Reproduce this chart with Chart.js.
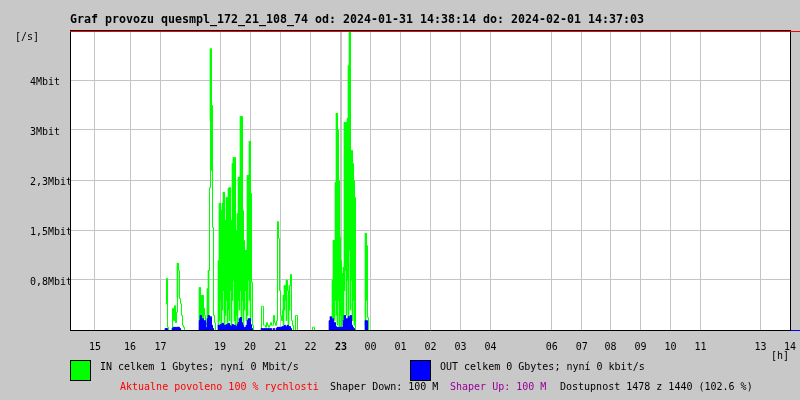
<!DOCTYPE html>
<html><head><meta charset="utf-8">
<script src="https://cdn.jsdelivr.net/npm/chart.js@4/dist/chart.umd.min.js"></script>
<style>
body{margin:0;background:#c8c8c8;}
#wrap{position:relative;width:800px;height:400px;overflow:hidden;font-family:"DejaVu Sans Mono",monospace;}
canvas{position:absolute;left:0;top:0;}
.t{position:absolute;white-space:pre;font-size:10px;line-height:12px;color:#000;}
.title{font-size:11.63px;font-weight:bold;line-height:14px;}
.box{position:absolute;width:19px;height:19px;border:1px solid #000;}
</style></head>
<body><div id="wrap">
<canvas id="c" width="800" height="400"></canvas>
<div class="t title" style="left:70px;top:12px">Graf provozu quesmpl_172_21_108_74 od: 2024-01-31 14:38:14 do: 2024-02-01 14:37:03</div>
<div class="t" style="left:15px;top:31px">[/s]</div>
<div class="t" style="left:771px;top:350px">[h]</div>
<div class="box" style="left:70px;top:360px;background:#00ff00"></div>
<div class="t" style="left:100px;top:361px">IN celkem 1 Gbytes; nyní 0 Mbit/s</div>
<div class="box" style="left:410px;top:360px;background:#0000ff"></div>
<div class="t" style="left:440px;top:361px">OUT celkem 0 Gbytes; nyní 0 kbit/s</div>
<div class="t" style="left:120px;top:381px;color:#ff0000">Aktualne povoleno 100 % rychlosti</div>
<div class="t" style="left:330px;top:381px">Shaper Down: 100 M</div>
<div class="t" style="left:450px;top:381px;color:#990099">Shaper Up: 100 M</div>
<div class="t" style="left:560px;top:381px">Dostupnost 1478 z 1440 (102.6 %)</div>
</div>
<script>
// time axis: hours after 2024-01-31 14:00
const xTickHours = [0.83, 2, 3.02, 5, 6, 7.02, 8.02, 9.03, 10.02, 11.02, 12.02, 13.02, 14.02, 16.06, 17.06, 18.02, 19.02, 20.02, 21.02, 23.02, 24];
const xTickLabels = ['15','16','17','19','20','21','22','23','00','01','02','03','04','06','07','08','09','10','11','13','14'];
const yTickValues = [0, 0.7667, 1.5333, 2.3, 3.0667, 3.8333, 4.6];
const yTickLabels = ['', '0,8Mbit', '1,5Mbit', '2,3Mbit', '3Mbit', '4Mbit', ''];
const sampleStartMinutes = 190; // 17:10
const sampleStepMinutes = 2;

// IN traffic, peak of each interval, Mbit/s
const inMbit = [
0.41,0.8,0.05,0,0,0,0,0.34,0.15,0.38,0.12,0.28,1.03,0.92,0.49,0.41,0.23,0.08,0.05,
0,0,0,0,0,0,0,0,0,0,0,0,0,0,0,
0.66,0.54,0.46,0.54,0.34,0.23,0.12,0.08,0.64,0.92,2.19,4.32,3.45,1.58,0.23,0.12,0,0,0,
1.07,1.95,1.84,1.38,1.95,2.12,1.69,1.23,2.04,1.53,2.18,2.19,1.69,0.92,2.56,2.65,2.65,1.53,1.23,1.79,2.35,2.35,3.28,3.28,1.84,1.38,1.07,1.23,1.23,2.38,2.38,2.9,2.1,0.74,0.08,
0,0,0,0,0,0,0,0,
0.37,0.37,0.08,0.08,0.05,0.12,0.08,0.05,0.08,0.12,0.08,0.08,0.23,0.12,0.08,0.15,1.67,1.41,0.61,0.23,0.15,0.31,0.54,0.69,0.46,0.77,0.61,0.54,0.69,0.86,0.15,0.08,0,0,0.23,0.23,
0,0,0,0,0,0,0,0,0,0,0,0,0,0,0,
0.05,0.05,
0,0,0,0,0,0,0,0,0,0,0,0,0,0,0,
0.12,0.15,0.12,0.77,1.38,1.38,2.27,3.33,3.07,2.3,1.43,1.07,0.61,0.87,0.97,3.19,3.19,3.07,3.25,4.06,4.6,2.56,2.76,2.56,2.3,2.04,
0,0,0,0,0,0,0,0,0,0,
1.49,1.3,0.2,0
];
// IN traffic, low of each interval where the trace fills a band (null = no band), Mbit/s
const inLowMbit = [
null,null,null,null,null,null,null,null,null,null,null,null,0.51,null,null,null,null,null,null,
null,null,null,null,null,null,null,null,null,null,null,null,null,null,null,
0.15,0.15,0.23,0.15,0.08,null,null,null,0.08,0.08,null,3.22,2.45,null,null,null,null,null,null,
0.05,0.15,0.46,0.08,0.31,0.61,0.05,0.23,0.46,0.08,0.31,0.15,0.61,0.05,0.46,0.77,0.15,0.05,0.23,0.08,0.46,0.31,0.61,0.15,0.46,0.08,0.31,0.61,0.15,0.23,0.77,0.46,0.15,null,null,
null,null,null,null,null,null,null,null,
null,null,null,null,null,null,null,null,null,null,null,null,null,null,null,null,null,null,null,null,null,null,0.08,0.31,null,0.15,null,0.08,0.31,null,null,null,null,null,null,null,
null,null,null,null,null,null,null,null,null,null,null,null,null,null,null,
null,null,
null,null,null,null,null,null,null,null,null,null,null,null,null,null,null,
null,null,null,0.08,0.05,0.15,0.46,0.23,0.08,0.46,0.05,0.23,0.05,0.15,0.08,0.61,0.92,0.23,0.77,0.15,1.23,0.31,0.77,0.15,0.46,0.08,
null,null,null,null,null,null,null,null,null,null,
0.08,0.46,null,null
];
// OUT traffic, Mbit/s
const outMbit = [
0.03,0.03,0,0,0,0,0,0.03,0.05,0.03,0.05,0.03,0.05,0.05,0.03,0,0,0,0,
0,0,0,0,0,0,0,0,0,0,0,0,0,0,0,
0.15,0.23,0.12,0.18,0.08,0.15,0.05,0.03,0.18,0.23,0.12,0.21,0.08,0.03,0,0,0,0,0,
0.08,0.05,0.09,0.06,0.11,0.05,0.08,0.06,0.09,0.05,0.11,0.08,0.06,0.05,0.09,0.06,0.08,0.05,0.06,0.09,0.12,0.18,0.2,0.12,0.08,0.05,0.03,0.05,0.08,0.15,0.18,0.18,0.09,0.03,0,
0,0,0,0,0,0,0,0,
0.03,0.03,0,0.03,0,0.03,0,0.03,0,0.03,0,0,0.03,0,0,0.03,0.05,0.03,0.05,0.03,0.05,0.06,0.05,0.08,0.06,0.05,0.08,0.05,0.06,0.03,0,0,0,0,0,0,
0,0,0,0,0,0,0,0,0,0,0,0,0,0,0,
0,0,
0,0,0,0,0,0,0,0,0,0,0,0,0,0,0,
0.15,0.21,0.09,0.18,0.08,0.12,0.06,0.05,0.03,0.05,0.03,0.05,0.03,0.05,0.15,0.23,0.12,0.18,0.09,0.21,0.15,0.23,0.08,0.05,0.03,0,
0,0,0,0,0,0,0,0,0,0,
0.15,0.15,0,0
];

const hourOf = i => (sampleStartMinutes + i * sampleStepMinutes) / 60;
const toPoints = arr => arr.map((v, i) => ({x: hourOf(i), y: v}));
const inBand = inLowMbit.map((lo, i) => lo === null ? null : {x: hourOf(i), y: [lo, inMbit[i]]}).filter(p => p);
const outBand = outMbit.map((v, i) => v > 0 ? {x: hourOf(i), y: [0, v]} : null).filter(p => p);

const framePlugin = {
  id: 'frame',
  beforeDraw(chart) {
    const {ctx, chartArea: a} = chart;
    ctx.save(); ctx.fillStyle = '#ffffff';
    ctx.fillRect(a.left, a.top, a.right - a.left, a.bottom - a.top);
    ctx.restore();
  },
  beforeDatasetsDraw(chart) {
    chart.ctx.save();
    chart.ctx.translate(0.5, 0.5);
  },
  afterDatasetsDraw(chart) {
    const {ctx, chartArea: a} = chart;
    ctx.restore();
    ctx.save(); ctx.lineWidth = 1;
    ctx.strokeStyle = '#000';
    ctx.beginPath();
    ctx.moveTo(a.left + 0.5, a.top); ctx.lineTo(a.left + 0.5, a.bottom + 1);
    ctx.moveTo(a.left, a.bottom + 0.5); ctx.lineTo(a.right + 1, a.bottom + 0.5);
    ctx.moveTo(a.right + 0.5, a.top); ctx.lineTo(a.right + 0.5, a.bottom + 1);
    ctx.moveTo(a.left, a.top + 0.5); ctx.lineTo(a.right, a.top + 0.5);
    ctx.stroke();
    ctx.strokeStyle = '#ff0000';
    ctx.beginPath(); ctx.moveTo(a.left, a.top + 1.5); ctx.lineTo(chart.width, a.top + 1.5); ctx.stroke();
    ctx.strokeStyle = '#0000ff';
    ctx.beginPath(); ctx.moveTo(a.right + 1, a.bottom + 0.5); ctx.lineTo(chart.width, a.bottom + 0.5); ctx.stroke();
    ctx.restore();
  }
};

const tickFont = {family: '"DejaVu Sans Mono", monospace', size: 10};

new Chart(document.getElementById('c'), {
  type: 'line',
  data: {
    datasets: [
      {label: 'OUT', data: toPoints(outMbit), borderColor: '#0000ff', borderWidth: 1, pointRadius: 0, stepped: 'before', fill: false, order: 0},
      {type: 'bar', label: 'OUT band', data: outBand, backgroundColor: '#0000ff', borderWidth: 0, barThickness: 1, grouped: false, order: 1},
      {label: 'IN', data: toPoints(inMbit), borderColor: '#00ff00', borderWidth: 1, pointRadius: 0, stepped: 'before', fill: false, order: 2},
      {type: 'bar', label: 'IN band', data: inBand, backgroundColor: '#00ff00', borderWidth: 0, barThickness: 1, grouped: false, order: 3}
    ]
  },
  options: {
    responsive: false, animation: false, devicePixelRatio: 1,
    layout: {padding: {left: 30, right: 10, top: 30, bottom: 40}},
    plugins: {legend: {display: false}, title: {display: false}, tooltip: {enabled: false}},
    scales: {
      x: {
        type: 'linear', min: 0, max: 24, offset: false,
        afterBuildTicks: s => { s.ticks = xTickHours.map(v => ({value: v})); },
        afterFit: s => { s.height = 30; s.paddingLeft = 0; s.paddingRight = 0; },
        border: {display: false},
        grid: {color: '#c4c4c4', drawTicks: false, offset: false,
               lineWidth: ctx => (ctx.tick && ctx.index === 7) ? 2 : 1},
        ticks: {autoSkip: false, maxRotation: 0, padding: 11, color: '#000',
                font: ctx => ctx.index === 7 ? {...tickFont, weight: 'bold'} : tickFont,
                callback: (v, i) => xTickLabels[i]}
      },
      y: {
        min: 0, max: 4.6,
        afterBuildTicks: s => { s.ticks = yTickValues.map(v => ({value: v})); },
        afterFit: s => { s.width = 40; s.paddingTop = 0; s.paddingBottom = 0; },
        border: {display: false},
        grid: {color: '#c4c4c4', drawTicks: false},
        ticks: {crossAlign: 'far', padding: 0, color: '#000', font: tickFont, labelOffset: 2,
                callback: (v, i) => yTickLabels[i]}
      }
    }
  },
  plugins: [framePlugin]
});
</script>
</body></html>
